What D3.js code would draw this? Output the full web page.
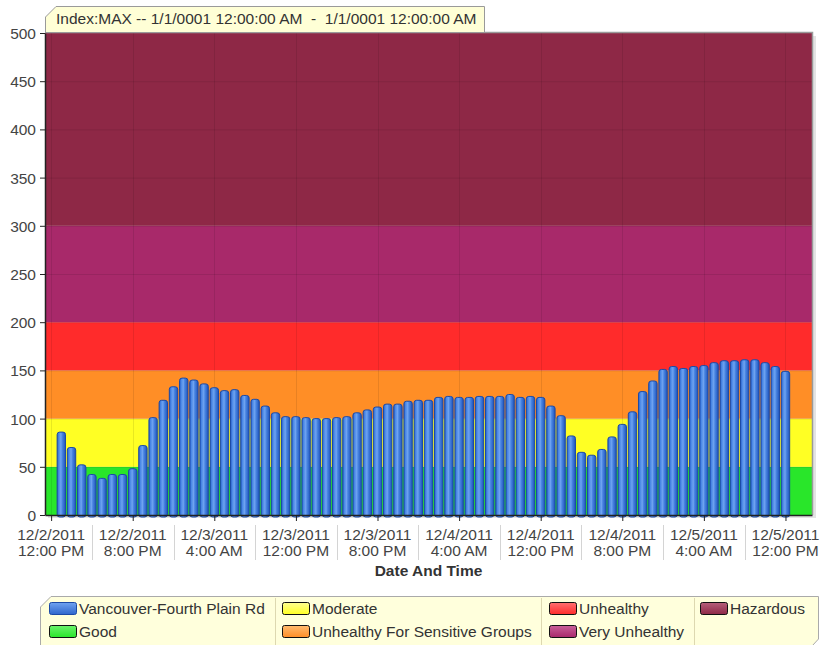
<!DOCTYPE html>
<html><head><meta charset="utf-8">
<script src="https://cdn.jsdelivr.net/npm/d3@7/dist/d3.min.js"></script>
<style>body{margin:0;background:#fff}svg{display:block;font-family:"Liberation Sans",Arial,sans-serif}text{white-space:pre}</style>
</head><body>
<svg id="c" width="820" height="645"></svg>
<script>
// ---- data ----
const seriesName = "Vancouver-Fourth Plain Rd";
const firstHour = "2011-12-02T13:00:00";
const values = [86,70,52,42,38,42,42,48,72,101,119,133,142,140,136,132,129,130,124,120,113,106,102,102,
  101,100,100,101,102,106,109,112,115,115,118,119,119,122,123,122,122,123,123,123,125,122,123,122,
  113,103,82,65,62,68,81,94,107,128,139,151,154,152,154,155,158,160,160,161,161,158,154,149];
const bandNames = ["Good","Moderate","Unhealthy For Sensitive Groups","Unhealthy","Very Unhealthy","Hazardous"];
const bandLow  = [0,50,100,150,200,300];
const bandHigh = [50,100,150,200,300,500];
const tickTimes = ["2011-12-02T12:00:00","2011-12-02T20:00:00","2011-12-03T04:00:00","2011-12-03T12:00:00",
  "2011-12-03T20:00:00","2011-12-04T04:00:00","2011-12-04T12:00:00","2011-12-04T20:00:00",
  "2011-12-05T04:00:00","2011-12-05T12:00:00"];
const yTicks = [0,50,100,150,200,250,300,350,400,450,500];
const titleText = "Index:MAX -- 1/1/0001 12:00:00 AM  -  1/1/0001 12:00:00 AM";
const xTitle = "Date And Time";
// ---- styles ----
const bandColors = ["#29e62a","#ffff24","#ff8e26","#ff2b2b","#a8296a","#8e2846"];
const FS = 15.5;

const parse = d3.timeParse("%Y-%m-%dT%H:%M:%S");
const t0 = parse(firstHour);
const times = values.map((v,i)=>d3.timeHour.offset(t0,i));
const ticks = tickTimes.map(parse);

const svg = d3.select("#c");
const L=45, R=812, T=33, B=515;
const x = d3.scaleTime()
  .domain([d3.timeMinute.offset(ticks[0],-36), d3.timeMinute.offset(ticks[ticks.length-1],156)])
  .range([L,R]);
const y = d3.scaleLinear().domain([0,500]).range([B,T]);
const step = x(times[1])-x(times[0]);
const bw = step*0.92;

const defs = svg.append("defs");
const bg = defs.append("linearGradient").attr("id","barg").attr("x1","0").attr("x2","1").attr("y1","0").attr("y2","0");
[[0,"#2659c4"],[0.2,"#4a88e6"],[0.45,"#6fa3f0"],[0.6,"#4a86e2"],[1,"#1f52bb"]].forEach(s=>bg.append("stop").attr("offset",s[0]).attr("stop-color",s[1]));

// shadow
svg.append("rect").attr("x",L+3).attr("y",T+3).attr("width",R-L+1).attr("height",B-T).attr("fill","#e4e4e4");
// bands
svg.append("g").selectAll("rect").data(bandNames).join("rect")
  .attr("x",L).attr("width",R-L)
  .attr("y",(d,i)=>y(bandHigh[i])).attr("height",(d,i)=>y(bandLow[i])-y(bandHigh[i]))
  .attr("fill",(d,i)=>bandColors[i]);
// grid
svg.append("g").selectAll("line").data(yTicks.slice(1,-1)).join("line")
  .attr("x1",L).attr("x2",R).attr("y1",d=>y(d)+0.5).attr("y2",d=>y(d)+0.5)
  .attr("stroke","rgba(0,0,0,0.09)");
svg.append("g").selectAll("line").data(ticks).join("line")
  .attr("x1",d=>Math.round(x(d))+0.5).attr("x2",d=>Math.round(x(d))+0.5).attr("y1",T).attr("y2",B)
  .attr("stroke","rgba(0,0,0,0.09)");
// plot border top/right
svg.append("path").attr("d",`M${L},${T-0.5}H${R+0.5}V${B}`).attr("fill","none").attr("stroke","#9a9a9a").attr("stroke-width",1.5);

// bars
svg.append("g").selectAll("rect").data(values).join("rect")
  .attr("x",(d,i)=>x(times[i])-bw/2+0.5).attr("width",bw-1)
  .attr("y",d=>y(d)).attr("height",d=>B-y(d)+2)
  .attr("rx",2.5).attr("fill","url(#barg)").attr("stroke","#1c4aa6").attr("stroke-width",1);

// axes
const ya = svg.append("g").attr("transform",`translate(${L},0)`)
  .call(d3.axisLeft(y).tickValues(yTicks).tickSize(5).tickSizeOuter(0));
ya.select(".domain").attr("stroke","#222").attr("stroke-width",1.5);
ya.selectAll("text").attr("font-size",FS).attr("fill","#444").attr("font-family","Liberation Sans, Arial").attr("dx",-1).attr("dy","0.35em");
ya.selectAll(".tick line").attr("stroke","#222");

const xa = svg.append("g").attr("transform",`translate(0,${B})`)
  .call(d3.axisBottom(x).tickValues(ticks).tickSize(6).tickSizeOuter(0).tickFormat(""));
xa.select(".domain").attr("stroke","#222").attr("stroke-width",1.5);
xa.selectAll(".tick line").attr("stroke","#222");
const fDate = d3.timeFormat("%-m/%-d/%Y"), fTime = d3.timeFormat("%-I:%M %p");
const lab = svg.append("g").attr("font-size",FS).attr("fill","#444").attr("text-anchor","middle");
ticks.forEach(t=>{
  lab.append("text").attr("x",x(t)).attr("y",B+25).attr("fill","#444").text(fDate(t));
  lab.append("text").attr("x",x(t)).attr("y",B+41).attr("fill","#444").text(fTime(t));
});
svg.append("g").selectAll("line").data(ticks.slice(0,-1)).join("line")
  .attr("x1",(d,i)=>Math.round((x(d)+x(ticks[i+1]))/2)+0.5).attr("x2",(d,i)=>Math.round((x(d)+x(ticks[i+1]))/2)+0.5)
  .attr("y1",B+10).attr("y2",B+45).attr("stroke","#d4d4d4");
svg.append("text").attr("x",(L+R)/2).attr("y",576).attr("text-anchor","middle")
  .attr("font-size",FS).attr("font-weight","bold").attr("fill","#333").text(xTitle);

// title box
svg.append("path").attr("d","M45.5,32 V17 L56,6.5 H484.5 V32").attr("fill","#ffffd6").attr("stroke","#9a9a9a");
svg.append("text").attr("x",56).attr("y",24).attr("font-size",FS).attr("fill","#333").text(titleText);

// legend
svg.append("path").attr("d","M40.5,646 V607 L51,596.5 H818.5 V639 L812,646").attr("fill","#ffffdc").attr("stroke","#aaa");
[275,541,694].forEach(sx=>svg.append("line").attr("x1",sx+0.5).attr("x2",sx+0.5).attr("y1",598).attr("y2",645).attr("stroke","#ddd8b0"));
const legItems = [
  {name:seriesName, col:0,row:0, c1:"#6fa3f0", c2:"#2f66cc", stroke:"#1c4aa6"},
  {name:bandNames[0], col:0,row:1, c1:"#6cf26c", c2:bandColors[0], stroke:"#111"},
  {name:bandNames[1], col:1,row:0, c1:"#ffff90", c2:bandColors[1], stroke:"#111"},
  {name:bandNames[2], col:1,row:1, c1:"#ffbb70", c2:bandColors[2], stroke:"#111"},
  {name:bandNames[3], col:2,row:0, c1:"#ff7070", c2:bandColors[3], stroke:"#111"},
  {name:bandNames[4], col:2,row:1, c1:"#c9609a", c2:bandColors[4], stroke:"#111"},
  {name:bandNames[5], col:3,row:0, c1:"#b6607a", c2:bandColors[5], stroke:"#111"}
];
const colX = [49,282,549,700];
legItems.forEach((d,i)=>{
  const g = defs.append("linearGradient").attr("id","lg"+i).attr("x1",0).attr("x2",0).attr("y1",0).attr("y2",1);
  g.append("stop").attr("offset",0).attr("stop-color",d.c1);
  g.append("stop").attr("offset",1).attr("stop-color",d.c2);
  const yy = d.row===0?602:625;
  svg.append("rect").attr("x",colX[d.col]+0.5).attr("y",yy+0.5).attr("width",27).attr("height",12).attr("rx",2)
    .attr("fill",`url(#lg${i})`).attr("stroke",d.stroke);
  svg.append("text").attr("x",colX[d.col]+30).attr("y",yy+12).attr("font-size",FS).attr("fill","#333").text(d.name);
});
</script>
</body></html>
